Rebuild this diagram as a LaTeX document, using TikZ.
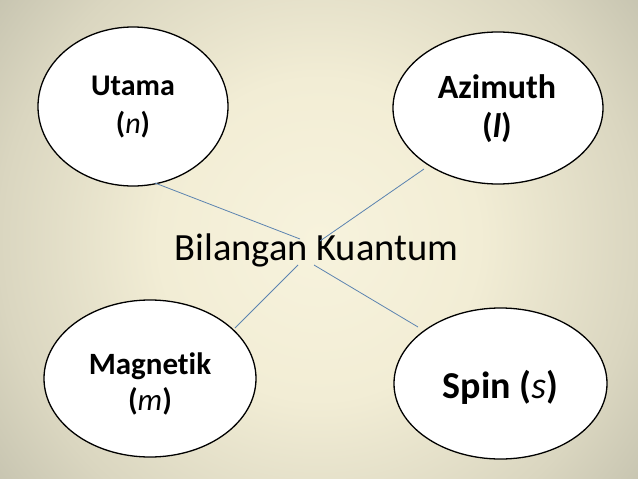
\documentclass[tikz,border=0pt]{standalone}
\usepackage{fontspec}
\setmainfont[Ligatures=NoCommon]{Carlito}
\usetikzlibrary{shapes.geometric}
\definecolor{bgA}{HTML}{F7F3DD}
\definecolor{bgB}{HTML}{F2EDD5}
\definecolor{bgC}{HTML}{DAD6C0}
\definecolor{bgD}{HTML}{BDBBA8}
\definecolor{bgE}{HTML}{A9A898}
\definecolor{bgF}{HTML}{9B9A8B}
\definecolor{linkcol}{HTML}{5B83B0}
\pgfdeclareradialshading{bgshade}{\pgfpoint{0bp}{0bp}}{%
  color(0bp)=(bgA); color(10bp)=(bgB); color(20bp)=(bgC); color(28bp)=(bgD);
  color(40bp)=(bgE); color(50bp)=(bgF); color(72bp)=(bgF)}
\tikzset{
  oval/.style={ellipse, draw=black, line width=1.3pt, fill=white, inner sep=0pt},
  label/.style={align=center, inner sep=0pt, text=black},
  link/.style={draw=linkcol, line width=0.8pt},
}
\begin{document}
\begin{tikzpicture}[x=1pt,y=-1pt]
\useasboundingbox (0,0) rectangle (638,479);
\begin{scope}
  \clip (0,0) rectangle (638,479);
  \shade[shading=bgshade] (-81,-160.5) rectangle (719,639.5);
\end{scope}
% ellipses
\node[oval, minimum width=190pt, minimum height=159pt] (utama) at (133,106.5) {};
\node[oval, minimum width=210pt, minimum height=152pt] (azimuth) at (498,108) {};
\node[oval, minimum width=212pt, minimum height=157pt] (magnetik) at (150,378.5) {};
\node[oval, minimum width=213pt, minimum height=151pt] (spin) at (500.5,383.5) {};
% labels
\node[label, font=\fontsize{30}{38}\selectfont\bfseries] (utamaT) at (133,107) {Utama\\(\textit{\mdseries n})};
\node[label, font=\fontsize{34}{39}\selectfont\bfseries] (azimuthT) at (497,109) {Azimuth\\(\textit{l})};
\node[label, font=\fontsize{31}{36}\selectfont\bfseries] (magnetikT) at (150,384) {Magnetik\\(\textit{\mdseries m})};
\node[label, font=\fontsize{38}{44}\selectfont\bfseries] (spinT) at (500.5,387) {Spin (\textit{\mdseries s})};
\node[label, font=\fontsize{38.5}{46}\selectfont, anchor=base] (center) at (316.5,260) {Bilangan Kuantum};
% connector ends
\coordinate (u1) at (155,183);
\coordinate (u2) at (300,239);
\coordinate (a1) at (424,169);
\coordinate (a2) at (320,241);
\coordinate (m1) at (235,328);
\coordinate (m2) at (298,265);
\coordinate (s1) at (314,265);
\coordinate (s2) at (418,327);
\draw[link] (u1) -- (u2);
\draw[link] (a1) -- (a2);
\draw[link] (m1) -- (m2);
\draw[link] (s1) -- (s2);
\end{tikzpicture}
\end{document}
